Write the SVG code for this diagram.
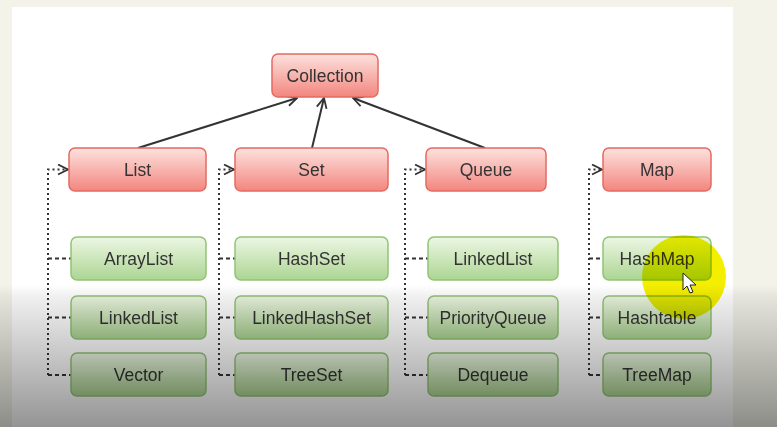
<svg xmlns="http://www.w3.org/2000/svg" width="777" height="427" viewBox="0 0 777 427">
  <defs>
    <linearGradient id="gRed" x1="0" y1="0" x2="0" y2="1">
      <stop offset="0" stop-color="#fde2de"/>
      <stop offset="1" stop-color="#f2867e"/>
    </linearGradient>
    <linearGradient id="gGreen" x1="0" y1="0" x2="0" y2="1">
      <stop offset="0" stop-color="#edf7e4"/>
      <stop offset="1" stop-color="#acd592"/>
    </linearGradient>
    <linearGradient id="gShade" x1="0" y1="0" x2="0" y2="1">
      <stop offset="0" stop-color="#000" stop-opacity="0"/>
      <stop offset="0.08" stop-color="#000" stop-opacity="0.06"/>
      <stop offset="1" stop-color="#000" stop-opacity="0.42"/>
    </linearGradient>
    <marker id="arr" viewBox="0 0 12 12" markerUnits="userSpaceOnUse" markerWidth="12" markerHeight="12" refX="11" refY="6" orient="auto">
      <path d="M1,1 L11,6 L1,11" fill="none" stroke="#333" stroke-width="1.8" stroke-dasharray="none"/>
    </marker>
  </defs>
  <style>
    .red rect { fill: url(#gRed); stroke: #e66a62; stroke-width: 1.5; }
    .green rect { fill: url(#gGreen); stroke: #92c376; stroke-width: 1.5; }
    text { font-family: "Liberation Sans", Arial, sans-serif; font-size: 17.5px; fill: #333333; text-anchor: middle; }
    .solid { fill: none; stroke: #333; stroke-width: 2; }
    .dot { fill: none; stroke: #333; stroke-width: 2; stroke-dasharray: 2 3; }
    .dash { fill: none; stroke: #333; stroke-width: 2; stroke-dasharray: 4 3; }
  </style>

  <rect x="0" y="0" width="777" height="427" fill="#f3f3ea"/>
  <rect x="12" y="7" width="721" height="420" fill="#ffffff"/>

  <g id="connectors">
    <line class="solid" x1="138" y1="148" x2="297" y2="98" marker-end="url(#arr)"/>
    <line class="solid" x1="312" y1="148" x2="324" y2="98" marker-end="url(#arr)"/>
    <line class="solid" x1="485" y1="148" x2="353" y2="98" marker-end="url(#arr)"/>

    <path class="dot" d="M48,375 L48,169.5 L68,169.5" marker-end="url(#arr)"/>
    <line class="dash" x1="48" y1="258.5" x2="71" y2="258.5"/>
    <line class="dash" x1="48" y1="317.5" x2="71" y2="317.5"/>
    <line class="dash" x1="48" y1="375" x2="71" y2="375"/>

    <path class="dot" d="M219,375 L219,169.5 L234,169.5" marker-end="url(#arr)"/>
    <line class="dash" x1="219" y1="258.5" x2="235" y2="258.5"/>
    <line class="dash" x1="219" y1="317.5" x2="235" y2="317.5"/>
    <line class="dash" x1="219" y1="375" x2="235" y2="375"/>

    <path class="dot" d="M405,375 L405,169.5 L425,169.5" marker-end="url(#arr)"/>
    <line class="dash" x1="405" y1="258.5" x2="428" y2="258.5"/>
    <line class="dash" x1="405" y1="317.5" x2="428" y2="317.5"/>
    <line class="dash" x1="405" y1="375" x2="428" y2="375"/>

    <path class="dot" d="M589,375 L589,169.5 L602,169.5" marker-end="url(#arr)"/>
    <line class="dash" x1="589" y1="258.5" x2="603" y2="258.5"/>
    <line class="dash" x1="589" y1="317.5" x2="603" y2="317.5"/>
    <line class="dash" x1="589" y1="375" x2="603" y2="375"/>
  </g>

  <g id="collection" class="red"><rect x="272" y="54" width="106" height="43" rx="6"/><text x="325" y="81.5">Collection</text></g>
  <g id="list" class="red"><rect x="69" y="148" width="137" height="43" rx="6"/><text x="137.5" y="175.5">List</text></g>
  <g id="set" class="red"><rect x="235" y="148" width="153" height="43" rx="6"/><text x="311.5" y="175.5">Set</text></g>
  <g id="queue" class="red"><rect x="426" y="148" width="120" height="43" rx="6"/><text x="486" y="175.5">Queue</text></g>
  <g id="map" class="red"><rect x="603" y="148" width="108" height="43" rx="6"/><text x="657" y="175.5">Map</text></g>

  <g id="arraylist" class="green"><rect x="71" y="237" width="135" height="43" rx="6"/><text x="138.5" y="264.5">ArrayList</text></g>
  <g id="linkedlist" class="green"><rect x="71" y="296" width="135" height="43" rx="6"/><text x="138.5" y="323.5">LinkedList</text></g>
  <g id="vector" class="green"><rect x="71" y="353" width="135" height="43" rx="6"/><text x="138.5" y="380.5">Vector</text></g>

  <g id="hashset" class="green"><rect x="235" y="237" width="153" height="43" rx="6"/><text x="311.5" y="264.5">HashSet</text></g>
  <g id="linkedhashset" class="green"><rect x="235" y="296" width="153" height="43" rx="6"/><text x="311.5" y="323.5">LinkedHashSet</text></g>
  <g id="treeset" class="green"><rect x="235" y="353" width="153" height="43" rx="6"/><text x="311.5" y="380.5">TreeSet</text></g>

  <g id="linkedlist2" class="green"><rect x="428" y="237" width="130" height="43" rx="6"/><text x="493" y="264.5">LinkedList</text></g>
  <g id="priorityqueue" class="green"><rect x="428" y="296" width="130" height="43" rx="6"/><text x="493" y="323.5">PriorityQueue</text></g>
  <g id="dequeue" class="green"><rect x="428" y="353" width="130" height="43" rx="6"/><text x="493" y="380.5">Dequeue</text></g>

  <g id="hashmap" class="green"><rect x="603" y="237" width="108" height="43" rx="6"/><text x="657" y="264.5">HashMap</text></g>
  <g id="hashtable" class="green"><rect x="603" y="296" width="108" height="43" rx="6"/><text x="657" y="323.5">Hashtable</text></g>
  <g id="treemap" class="green"><rect x="603" y="353" width="108" height="43" rx="6"/><text x="657" y="380.5">TreeMap</text></g>

  <circle cx="684" cy="277" r="42" fill="#f4ee00" style="mix-blend-mode: multiply"/>
  <path d="M683,273 L683,290 L687,286 L690,293 L693,292 L690,285 L696,285 Z" fill="#ffffff" stroke="#222" stroke-width="1"/>

  <rect x="0" y="285" width="777" height="142" fill="url(#gShade)"/>
</svg>
